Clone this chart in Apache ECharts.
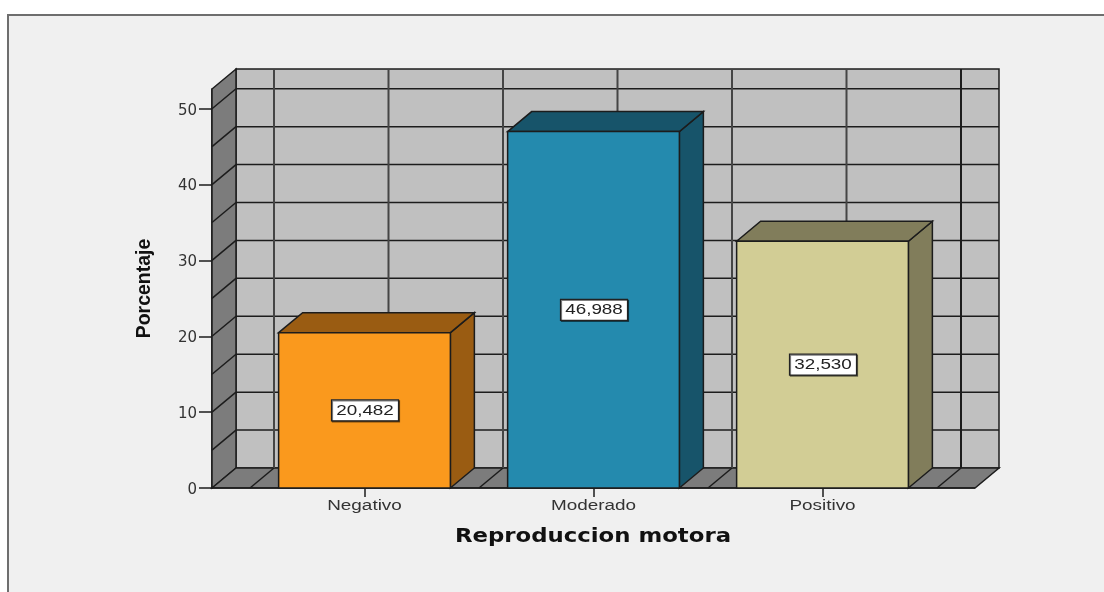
<!DOCTYPE html>
<html>
<head>
<meta charset="utf-8">
<style>html,body{margin:0;padding:0;background:#fff}#c{width:1104px;height:592px}</style>
<script src="https://cdn.jsdelivr.net/npm/echarts@6/dist/echarts.min.js"></script>
</head>
<body>
<div id="c"></div>
<script>
const categories = ['Negativo', 'Moderado', 'Positivo'];
const values = [20.482, 46.988, 32.530];
const yTicks = [0, 10, 20, 30, 40, 50];
const yGridValues = [5, 10, 15, 20, 25, 30, 35, 40, 45, 50];
const yTop = 52.6;
const xTitle = 'Reproduccion motora';
const yTitle = 'Porcentaje';
const frontColors = ['#FA991D', '#248AAE', '#D2CD95'];
const topColors = ['#9A5C12', '#17546A', '#817D5B'];

const DX = 24, DY = -20, LINE = '#1c1c1c';
const PAD_RATIO = 38 / 229;

function poly(pts, fill, lw) {
  return { type: 'polygon', shape: { points: pts }, style: { fill: fill, stroke: LINE, lineWidth: lw === undefined ? 1.5 : lw } };
}
function line(x1, y1, x2, y2, lw, color) {
  return { type: 'line', shape: { x1, y1, x2, y2 }, style: { stroke: color || LINE, lineWidth: lw || 1.5 } };
}
function stretched(text, x, y, font, fill, sx) {
  return { type: 'text', x: x, y: y, scaleX: sx, style: { text: text, fill: fill, font: font, align: 'center', verticalAlign: 'middle' } };
}

function renderWalls(params, api) {
  const band = api.size([1, 0])[0];
  const pad = band * PAD_RATIO;
  const base = api.coord([0, 0]);
  const c0 = base[0];
  const y0 = base[1];
  const yT = api.coord([0, yTop])[1];
  const left = c0 - band / 2 - pad;
  const right = c0 + band * 2.5 + pad;
  const ch = [];
  ch.push(poly([[left + DX, yT + DY], [right + DX, yT + DY], [right + DX, y0 + DY], [left + DX, y0 + DY]], '#C0C0C0'));
  ch.push(poly([[left, yT], [left + DX, yT + DY], [left + DX, y0 + DY], [left, y0]], '#7C7C7C'));
  ch.push(poly([[left, y0], [left + DX, y0 + DY], [right + DX, y0 + DY], [right, y0]], '#7C7C7C'));
  yGridValues.forEach(function (v) {
    const y = api.coord([0, v])[1];
    ch.push(line(left, y, left + DX, y + DY));
    ch.push(line(left + DX, y + DY, right + DX, y + DY));
  });
  for (let k = 0; k <= 6; k++) {
    const x = c0 - band / 2 + k * band / 2;
    ch.push(line(x + DX, yT + DY, x + DX, y0 + DY, 2, k === 6 ? LINE : '#454545'));
    ch.push(line(x, y0, x + DX, y0 + DY));
  }
  ch.push(line(left, y0, right, y0, 1.7));
  ch.push(stretched(xTitle, c0 + band - 0.5, y0 + 49.5, 'bold 19px "DejaVu Sans"', '#111', 1.2));
  return { type: 'group', children: ch };
}

function renderBar(params, api) {
  const i = api.value(0);
  const v = api.value(1);
  const c = api.coord([i, v]);
  const b = api.coord([i, 0]);
  const w = api.size([1, 0])[0] * 0.75;
  const x1 = c[0] - w / 2, x2 = c[0] + w / 2, yt = c[1], yb = b[1];
  const midY = (yt + yb) / 2;
  const txt = v.toFixed(3).replace('.', ',');
  return {
    type: 'group',
    children: [
      poly([[x2, yt], [x2 + DX, yt + DY], [x2 + DX, yb + DY], [x2, yb]], topColors[i]),
      poly([[x1, yt], [x1 + DX, yt + DY], [x2 + DX, yt + DY], [x2, yt]], topColors[i]),
      poly([[x1, yt], [x2, yt], [x2, yb], [x1, yb]], frontColors[i]),
      { type: 'rect', shape: { x: c[0] - 33, y: midY - 10.5, width: 67, height: 21 },
        style: { fill: '#fff', stroke: '#222', lineWidth: 1.2, shadowColor: 'rgba(0,0,0,0.5)', shadowOffsetX: 1, shadowOffsetY: 1, shadowBlur: 0 } },
      stretched(txt, c[0] + 0.5, midY + 0.5, '14.5px "Liberation Sans"', '#222', 1.3),
      stretched(categories[i], b[0], yb + 18, '14px "Liberation Sans"', '#333', 1.35)
    ]
  };
}

const chart = echarts.init(document.getElementById('c'), null, { renderer: 'canvas' });
chart.setOption({
  animation: false,
  backgroundColor: '#fff',
  graphic: [{
    type: 'rect', z: -10, silent: true,
    shape: { x: 8, y: 15, width: 1300, height: 800 },
    style: { fill: '#F0F0F0', stroke: '#6e6e6e', lineWidth: 2 }
  }],
  grid: { left: 250, right: 167, top: 89, bottom: 104 },
  xAxis: {
    type: 'category',
    data: categories,
    axisLine: { show: false },
    axisTick: { show: true, alignWithLabel: true, length: 9, lineStyle: { color: LINE, width: 1.5 } },
    axisLabel: { show: false },
    splitLine: { show: false }
  },
  yAxis: {
    type: 'value',
    min: 0,
    max: yTop,
    offset: 38,
    axisLine: { show: true, lineStyle: { color: LINE, width: 1.7 } },
    axisTick: { show: true, length: 13, customValues: yTicks, lineStyle: { color: LINE, width: 1.5 } },
    axisLabel: { color: '#333', fontFamily: 'DejaVu Sans', fontSize: 15, margin: 15, verticalAlign: 'top', lineHeight: 4, customValues: yTicks },
    name: yTitle,
    nameLocation: 'middle',
    nameGap: 57,
    nameTextStyle: { color: '#111', fontFamily: 'Liberation Sans', fontWeight: 'bold', fontSize: 19.5 },
    splitLine: { show: false }
  },
  series: [
    { type: 'custom', z: 1, silent: true, clip: false, renderItem: renderWalls, data: [[0]], encode: { x: 0 } },
    { type: 'custom', z: 3, silent: true, clip: false, renderItem: renderBar, data: values.map((v, i) => [i, v]), encode: { x: 0, y: 1 } }
  ]
});
</script>
</body>
</html>
